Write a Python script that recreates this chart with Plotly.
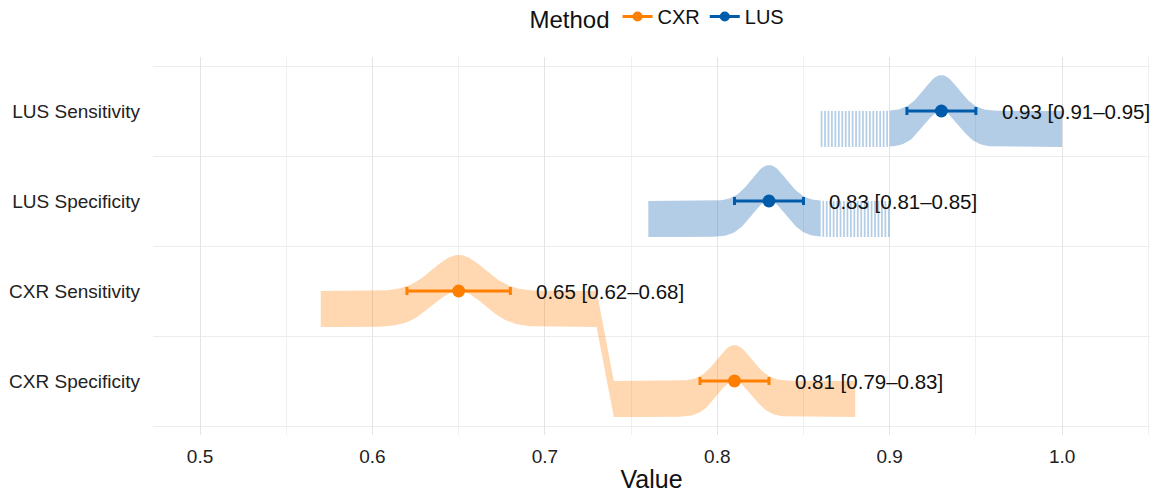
import numpy as np
import plotly.graph_objects as go

# ---- data ----
metrics = ["LUS Sensitivity", "LUS Specificity", "CXR Sensitivity", "CXR Specificity"]
methods = ["LUS", "LUS", "CXR", "CXR"]
estimates = [0.93, 0.83, 0.65, 0.81]
ci_low = [0.91, 0.81, 0.62, 0.79]
ci_high = [0.95, 0.85, 0.68, 0.83]
dens_from = [0.86, 0.76, 0.57, 0.74]
dens_to = [1.00, 0.90, 0.73, 0.88]
row_pos = [4, 3, 2, 1]
method_order = ["CXR", "LUS"]
colors = {"CXR": "#FF7F00", "LUS": "#005BAA"}
fills = {"CXR": "rgba(255,127,0,0.30)", "LUS": "rgba(0,91,170,0.30)"}

STEP = 0.001
HALF = 0.4

fig = go.Figure()

# ---- density ribbons (one ribbon per method, sorted by x) ----
for m in method_order:
    idx = [i for i in range(len(metrics)) if methods[i] == m]
    pts = {}
    for i in idx:
        sd = (ci_high[i] - ci_low[i]) / 4.0
        k0 = int(round(dens_from[i] / STEP))
        k1 = int(round(dens_to[i] / STEP))
        for k in range(k0, k1 + 1):
            x = k * STEP
            g = np.exp(-((x - estimates[i]) ** 2) / (2 * sd * sd))
            up = row_pos[i] + HALF * g
            lo = row_pos[i] - HALF + HALF * g
            pts.setdefault(k, []).append((dens_from[i], x, up, lo))
    seq = []
    tie = 0
    for k in sorted(pts):
        grp = sorted(pts[k], key=lambda p: p[0])
        if len(grp) > 1:
            if tie % 2 == 1:
                grp = grp[::-1]
            tie += 1
        seq.extend(grp)
    xs = [p[1] for p in seq]
    ups = [p[2] for p in seq]
    los = [p[3] for p in seq]
    fig.add_trace(go.Scatter(
        x=xs + xs[::-1], y=ups + los[::-1], mode="lines", fill="toself",
        fillcolor=fills[m], line=dict(width=0), hoverinfo="skip", showlegend=False))

# ---- points with CI ----
for m in method_order:
    idx = [i for i in range(len(metrics)) if methods[i] == m]
    fig.add_trace(go.Scatter(
        x=[estimates[i] for i in idx], y=[row_pos[i] for i in idx],
        mode="markers", name=m, showlegend=False, legendgroup=m,
        marker=dict(color=colors[m], size=13),
        error_x=dict(type="data", symmetric=False,
                     array=[ci_high[i] - estimates[i] for i in idx],
                     arrayminus=[estimates[i] - ci_low[i] for i in idx],
                     color=colors[m], thickness=3, width=4),
    ))
    # legend key
    fig.add_trace(go.Scatter(
        x=[None], y=[None], mode="lines+markers", name=m, legendgroup=m,
        line=dict(color=colors[m], width=3), marker=dict(color=colors[m], size=10)))

for i in range(len(metrics)):
    fig.add_annotation(
        x=ci_high[i], y=row_pos[i], xref="x", yref="y",
        text=f"{estimates[i]:.2f} [{ci_low[i]:.2f}\u2013{ci_high[i]:.2f}]",
        showarrow=False, xanchor="left", yanchor="middle", xshift=24,
        font=dict(size=20.5, color="#111111"))

FONT = "Liberation Sans, Arial, sans-serif"
fig.update_layout(
    width=1150, height=496,
    margin=dict(l=153, r=0, t=57, b=61, autoexpand=False),
    plot_bgcolor="white", paper_bgcolor="white",
    font=dict(family=FONT, color="#111111"),
    legend=dict(orientation="h", x=0.507, xanchor="center", y=1.103, yanchor="middle",
                title=dict(text="Method", font=dict(size=24)),
                font=dict(size=20)),
    xaxis=dict(range=[0.4727, 1.051], tick0=0.5, dtick=0.1, tickformat=".1f",
               showgrid=True, gridcolor="#e4e4e4", gridwidth=1, zeroline=False,
               showline=False, ticks="", tickfont=dict(size=19, color="#222222"),
               ticklabelstandoff=8, automargin=False,
               minor=dict(tick0=0.45, dtick=0.1, showgrid=True, gridcolor="#f0f0f0", gridwidth=1),
               title=dict(text="Value", font=dict(size=25), standoff=4)),
    yaxis=dict(range=[0.4, 4.6], tickvals=row_pos, ticktext=metrics,
               showgrid=False, zeroline=False, showline=False, ticks="",
               tickfont=dict(size=19, color="#222222"), ticklabelstandoff=12,
               automargin=False,
               minor=dict(tick0=0.5, dtick=1, showgrid=True, gridcolor="#ececec", gridwidth=1)),
)

fig.write_html("out.html", config={"displayModeBar": False},
               post_script="document.body.style.margin='0';document.body.style.overflow='hidden';")
